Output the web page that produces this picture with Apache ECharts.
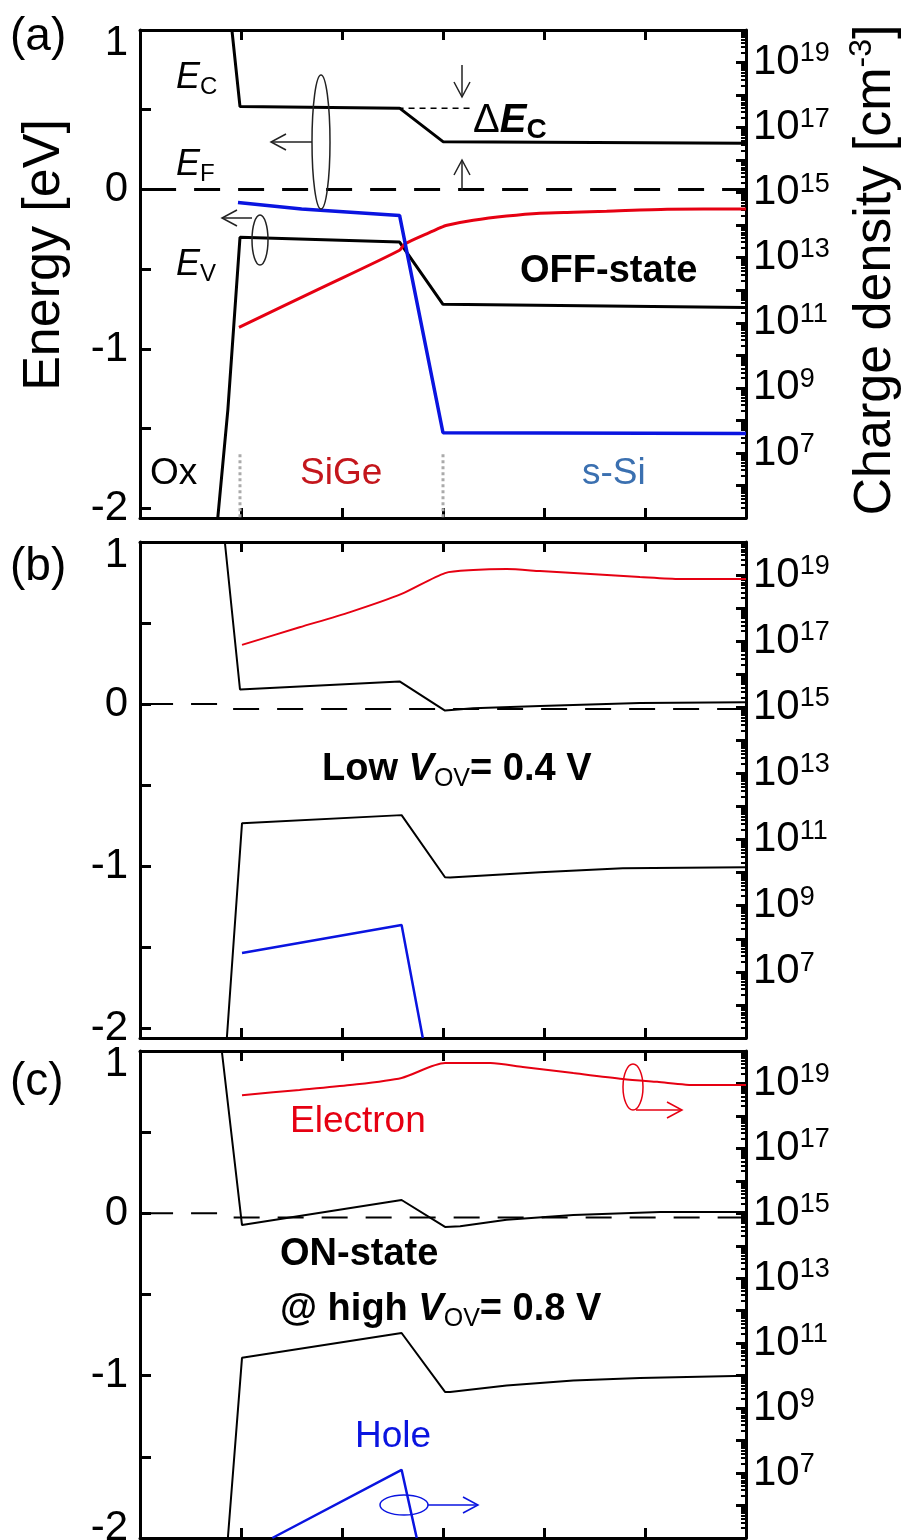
<!DOCTYPE html>
<html><head><meta charset="utf-8">
<script src="https://cdn.jsdelivr.net/npm/echarts@6/dist/echarts.min.js"></script>
<style>html,body{margin:0;padding:0;background:#fff}#c{width:908px;height:1540px}</style>
</head><body><div id="c"></div>
<script>
// ================= DATA =================
// x: depth position (arb. units): Ox 0..1, SiGe 1..3, s-Si 3..6
const POS_RANGE = [0, 6];
const ENERGY_TICK_LABELS = ['-2', '-1', '0', '1'];
const DENSITY_LABEL_EXPS = [7, 9, 11, 13, 15, 17, 19];
const DENSITY_RANGE = [1e5, 1e20];

// ---- (a) OFF-state : energies [eV], densities as log10(cm^-3)
const aEc = [[0.91, 1.0], [0.99, 0.52], [2.57, 0.51], [3.0, 0.30], [6.0, 0.29]];
const aEv = [[0.77, -2.06], [0.87, -1.38], [0.99, -0.30], [2.57, -0.33], [3.0, -0.72], [6.0, -0.74]];
const aEf = [[0.1, 0], [6.0, 0]];
const aEcRef = [[2.55, 0.51], [3.29, 0.51]];
const aElecLog = [[0.98, 10.86], [1.78, 12.05], [2.57, 13.23], [2.62, 13.42], [2.87, 13.78], [2.97, 13.92], [3.04, 14.0], [3.30, 14.15], [3.63, 14.28], [3.96, 14.37], [4.29, 14.4], [4.62, 14.43], [5.22, 14.49], [6.0, 14.5]];
const aHoleLog = [[0.97, 14.7], [1.6, 14.5], [2.57, 14.3], [3.0, 7.62], [6.0, 7.6]];

// ---- (b) Low V_OV = 0.4 V
const bEc = [[0.84, 1.0], [0.99, 0.09], [2.57, 0.14], [3.02, -0.04], [3.30, -0.025], [3.96, -0.012], [4.95, 0.006], [6.0, 0.012]];
const bEv = [[0.86, -2.06], [1.01, -0.735], [2.59, -0.685], [3.02, -1.068], [3.07, -1.07], [3.96, -1.037], [4.78, -1.012], [6.0, -1.006]];
const bEf = [[0.07, 0], [0.81, 0], [0.86, -0.03], [6.0, -0.03]];
const bElecLog = [[1.01, 16.89], [1.58, 17.42], [2.08, 17.88], [2.59, 18.43], [3.02, 19.06], [3.30, 19.15], [3.63, 19.18], [3.96, 19.12], [4.46, 19.03], [4.95, 18.94], [5.35, 18.88], [6.0, 18.88]];
const bHoleLog = [[1.01, 7.57], [2.59, 8.42], [2.80, 5.0]];

// ---- (c) ON-state @ high V_OV = 0.8 V
const cEc = [[0.81, 1.0], [1.01, -0.072], [2.59, 0.082], [3.02, -0.084], [3.17, -0.08], [3.63, -0.04], [4.29, -0.01], [5.15, 0.008], [6.0, 0.008]];
const cEv = [[0.87, -2.0], [1.01, -0.89], [2.59, -0.737], [3.02, -1.10], [3.07, -1.10], [3.63, -1.06], [4.29, -1.03], [4.95, -1.015], [6.0, -1.0]];
const cEf = [[0.07, 0], [0.81, 0], [0.86, -0.025], [6.0, -0.025]];
const cElecLog = [[1.01, 18.64], [1.58, 18.8], [2.08, 18.95], [2.59, 19.17], [3.02, 19.63], [3.47, 19.63], [3.79, 19.51], [4.29, 19.32], [4.78, 19.14], [5.12, 19.05], [5.51, 18.95], [6.0, 18.95]];
const cHoleLog = [[1.31, 5.0], [2.59, 7.1], [2.74, 5.0]];

// interface markers (x positions) shown in (a)
const INTERFACES = [0.99, 3.0];
const INTERFACE_SPAN = [-1.66, -2.06];

// ================= CHART =================
const FONT = "'Liberation Sans', Arial, Helvetica, sans-serif";
const RED = '#e60012', BLUE = '#0a14e0';
const chart = echarts.init(document.getElementById('c'), null, {renderer: 'canvas', width: 908, height: 1540});

const panels = [
  {top: 30, height: 488, eMin: -2.06, eMax: 1.0, lw: 3, ec: aEc, ev: aEv, ef: aEf, el: aElecLog, ho: aHoleLog, cut: false},
  {top: 542, height: 496, eMin: -2.06, eMax: 1.0, lw: 2, ec: bEc, ev: bEv, ef: bEf, el: bElecLog, ho: bHoleLog, cut: false},
  {top: 1051, height: 487, eMin: -2.0, eMax: 1.0, lw: 2, ec: cEc, ev: cEv, ef: cEf, el: cElecLog, ho: cHoleLog, cut: true}
];

const grids = [], xAxes = [], yAxes = [], series = [];
const axisLine = {show: true, onZero: false, lineStyle: {color: '#000', width: 3}};
const pow = arr => arr.map(p => [p[0], Math.pow(10, p[1])]);

panels.forEach((p, i) => {
  grids.push({left: 140, right: 162, top: p.top, height: p.height, containLabel: false, outerBoundsMode: 'none'});
  ['bottom', 'top'].forEach(pos => xAxes.push({
    gridIndex: i, type: 'value', min: POS_RANGE[0], max: POS_RANGE[1], interval: 1, position: pos,
    axisLine: axisLine, axisTick: {show: true, inside: true, length: 10, lineStyle: {color: '#000', width: 3}},
    axisLabel: {show: false}, splitLine: {show: false}
  }));
  yAxes.push({
    gridIndex: i, type: 'value', min: p.eMin, max: p.eMax, splitNumber: 6, minInterval: 0.5, maxInterval: 0.5, position: 'left',
    axisLine: axisLine, axisTick: {show: true, inside: true, length: 11, lineStyle: {color: '#000', width: 3}},
    splitLine: {show: false},
    axisLabel: {
      margin: 12, color: '#000', fontFamily: FONT, fontSize: 42,
      formatter: v => {
        if (Math.abs(v - Math.round(v)) > 1e-6) return '';
        const s = ENERGY_TICK_LABELS[Math.round(v) + 2];
        if (s === undefined) return '';
        if (Math.round(v) === 1) return '{t|' + s + '}';
        if (Math.round(v) === -2 && p.cut) return '{u|' + s + '}';
        return '{n|' + s + '}';
      },
      rich: {
        n: {fontSize: 42, fontFamily: FONT, color: '#000'},
        t: {fontSize: 42, fontFamily: FONT, color: '#000', padding: [26, 0, 0, 0]},
        u: {fontSize: 42, fontFamily: FONT, color: '#000', padding: [0, 0, 20, 0]}
      }
    }
  });
  yAxes.push({
    gridIndex: i, type: 'log', logBase: 10, min: DENSITY_RANGE[0], max: DENSITY_RANGE[1], interval: 1, position: 'right',
    axisLine: axisLine, axisTick: {show: true, inside: true, length: 10, lineStyle: {color: '#000', width: 3}},
    minorTick: {show: true, splitNumber: 9, length: 5, lineStyle: {color: '#000', width: 2}},
    splitLine: {show: false}, minorSplitLine: {show: false},
    axisLabel: {
      margin: 7, color: '#000',
      formatter: v => {
        const e = Math.round(Math.log10(v));
        return DENSITY_LABEL_EXPS.indexOf(e) >= 0 ? '{b|10}{s|' + e + '}' : '';
      },
      rich: {
        b: {fontSize: 42, fontFamily: FONT, color: '#000', lineHeight: 44},
        s: {fontSize: 27, fontFamily: FONT, color: '#000', lineHeight: 24, verticalAlign: 'top'}
      }
    }
  });
  const base = {type: 'line', xAxisIndex: 2 * i, showSymbol: false, symbol: 'none', animation: false, silent: true};
  series.push(Object.assign({}, base, {name: 'EF', yAxisIndex: 2 * i, data: p.ef, lineStyle: {color: '#000', width: p.lw, type: [26, 18]}}));
  series.push(Object.assign({}, base, {name: 'Ec', yAxisIndex: 2 * i, data: p.ec, lineStyle: {color: '#000', width: p.lw}}));
  series.push(Object.assign({}, base, {name: 'Ev', yAxisIndex: 2 * i, data: p.ev, lineStyle: {color: '#000', width: p.lw}}));
  series.push(Object.assign({}, base, {name: 'Electron', yAxisIndex: 2 * i + 1, data: pow(p.el), smooth: 0.25, lineStyle: {color: RED, width: p.lw}}));
  series.push(Object.assign({}, base, {name: 'Hole', yAxisIndex: 2 * i + 1, data: pow(p.ho), lineStyle: {color: BLUE, width: p.lw + 0.5}}));
});
// (a) extras
series.push({type: 'line', xAxisIndex: 0, yAxisIndex: 0, showSymbol: false, symbol: 'none', silent: true, data: aEcRef, lineStyle: {color: '#000', width: 1.5, type: [6, 5]}});
INTERFACES.forEach(x => series.push({type: 'line', xAxisIndex: 0, yAxisIndex: 0, showSymbol: false, symbol: 'none', silent: true,
  data: INTERFACE_SPAN.map(e => [x, e]), lineStyle: {color: '#aaa', width: 3, type: [3, 3]}}));

// ================= ANNOTATIONS =================
function txt(x, y, text, o) {
  o = o || {};
  return {type: 'text', x: x, y: y, rotation: o.rot || 0, z: 100, silent: true, style: {
    text: text, fontFamily: FONT, fontSize: o.size || 37, fontWeight: o.weight || 'normal', fontStyle: o.style || 'normal',
    fill: o.color || '#000', align: o.align || 'left', textAlign: o.align || 'left', verticalAlign: 'middle', textVerticalAlign: 'middle',
    rich: o.rich
  }};
}
function ell(cx, cy, rx, ry, color) {
  return {type: 'ellipse', z: 100, silent: true, shape: {cx: cx, cy: cy, rx: rx, ry: ry}, style: {fill: 'none', stroke: color || '#222', lineWidth: 1.5}};
}
function arrow(x1, y1, x2, y2, color) {
  const dx = x2 - x1, dy = y2 - y1, L = Math.hypot(dx, dy), ux = dx / L, uy = dy / L, h = 15, w = 8;
  return [
    {type: 'line', z: 100, silent: true, shape: {x1: x1, y1: y1, x2: x2, y2: y2}, style: {stroke: color || '#222', lineWidth: 1.5}},
    {type: 'polyline', z: 100, silent: true, shape: {points: [[x2 - ux * h - uy * w, y2 - uy * h + ux * w], [x2, y2], [x2 - ux * h + uy * w, y2 - uy * h - ux * w]]}, style: {fill: 'none', stroke: color || '#222', lineWidth: 1.5}}
  ];
}
const ERich = {
  i: {fontFamily: FONT, fontSize: 36, fontStyle: 'italic', lineHeight: 42, fill: '#000'},
  s: {fontFamily: FONT, fontSize: 24, lineHeight: 20, verticalAlign: 'bottom', fill: '#000'}
};
const VRich = {
  b: {fontFamily: FONT, fontSize: 38, fontWeight: 'bold', lineHeight: 44, fill: '#000'},
  v: {fontFamily: FONT, fontSize: 38, fontWeight: 'bold', fontStyle: 'italic', lineHeight: 44, fill: '#000'},
  o: {fontFamily: FONT, fontSize: 25, lineHeight: 20, verticalAlign: 'bottom', fill: '#000'}
};
const graphics = [
  txt(10, 37, '(a)', {size: 46}), txt(10, 567, '(b)', {size: 46}), txt(10, 1082, '(c)', {size: 46}),
  txt(45, 255, 'Energy [eV]', {size: 52, rot: Math.PI / 2, align: 'center'}),
  txt(876, 270, '{t|Charge density [cm}{s|-3}{t|]}', {size: 52, rot: Math.PI / 2, align: 'center',
    rich: {t: {fontFamily: FONT, fontSize: 52, lineHeight: 60, fill: '#000'}, s: {fontFamily: FONT, fontSize: 32, lineHeight: 32, verticalAlign: 'top', fill: '#000'}}}),
  txt(176, 78, '{i|E}{s|C}', {rich: ERich}),
  txt(176, 165, '{i|E}{s|F}', {rich: ERich}),
  txt(176, 265, '{i|E}{s|V}', {rich: ERich}),
  txt(473, 121, '{d|Δ}{e|E}{c|C}', {rich: {
    d: {fontFamily: FONT, fontSize: 40, lineHeight: 46, fill: '#000'},
    e: {fontFamily: FONT, fontSize: 40, fontWeight: 'bold', fontStyle: 'italic', lineHeight: 46, fill: '#000'},
    c: {fontFamily: FONT, fontSize: 28, fontWeight: 'bold', lineHeight: 22, verticalAlign: 'bottom', fill: '#000'}}}),
  txt(520, 272, 'OFF-state', {size: 38, weight: 'bold'}),
  txt(150, 474, 'Ox'),
  txt(300, 474, 'SiGe', {color: '#c4161c'}),
  txt(582, 474, 's-Si', {color: '#3b70b0'}),
  txt(322, 770, '{b|Low }{v|V}{o|OV}{b|= 0.4 V}', {rich: VRich}),
  txt(290, 1122, 'Electron', {color: RED}),
  txt(280, 1255, 'ON-state', {size: 38, weight: 'bold'}),
  txt(280, 1310, '{b|@ high }{v|V}{o|OV}{b|= 0.8 V}', {rich: VRich}),
  txt(355, 1437, 'Hole', {color: BLUE}),
  ell(321, 142, 9, 67), ell(260, 240, 8, 25),
  ell(633, 1087, 10, 23, RED), ell(404, 1505, 24, 10, BLUE)
].concat(
  arrow(312, 142, 271, 142), arrow(252, 218, 222, 218),
  arrow(462, 65, 462, 97), arrow(462, 190, 462, 160),
  arrow(636, 1110, 682, 1110, RED), arrow(428, 1505, 478, 1505, BLUE)
);

chart.setOption({
  animation: false,
  backgroundColor: '#fff',
  textStyle: {fontFamily: FONT},
  grid: grids, xAxis: xAxes, yAxis: yAxes, series: series,
  graphic: {elements: graphics}
});
</script></body></html>
